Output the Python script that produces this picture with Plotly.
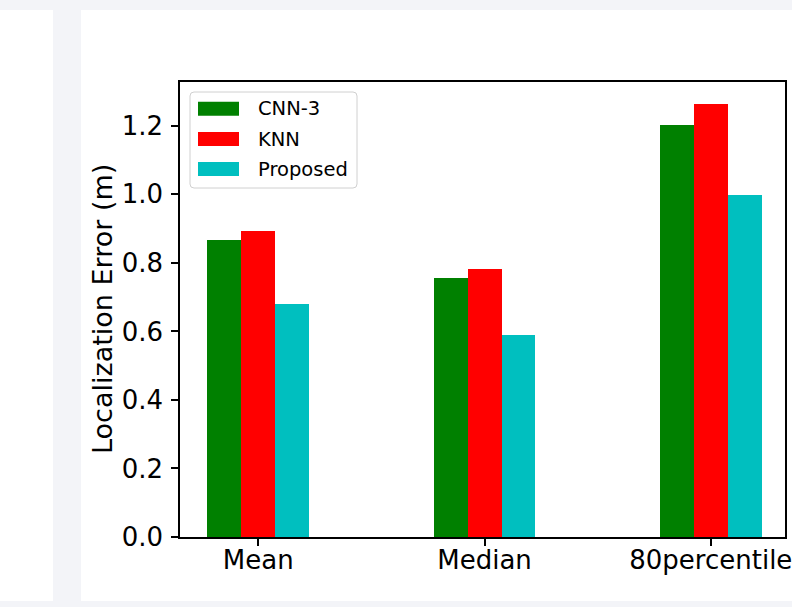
import plotly.graph_objects as go

categories = ["Mean", "Median", "80percentile"]
series_names = ["CNN-3", "KNN", "Proposed"]
cnn3 = [0.868, 0.755, 1.202]
knn = [0.894, 0.782, 1.265]
proposed = [0.681, 0.591, 0.997]
series_values = [cnn3, knn, proposed]
colors = ["#008000", "#ff0000", "#00bfbf"]
y_ticks = [0.0, 0.2, 0.4, 0.6, 0.8, 1.0, 1.2]

W, H = 792, 607
L, R, T, B = 180, 785, 82, 537  # plot area pixels
FONT = "DejaVu Sans"


def px(x):
    return (x - L) / (R - L)


def py(y):
    return (B - y) / (B - T)


fig = go.Figure()
bar_w = 0.15
offsets = [-0.225, -0.075, 0.075]
for name, vals, col, off in zip(series_names, series_values, colors, offsets):
    fig.add_trace(go.Bar(
        x=categories, y=vals, name=name, width=bar_w, offset=off,
        marker=dict(color=col, line=dict(width=0)), showlegend=False,
    ))

shapes = []
bg = "rgb(243,244,248)"
# page panels
shapes.append(dict(type="rect", xref="paper", yref="paper", x0=px(0), x1=px(53),
                   y0=py(10), y1=py(601), fillcolor="white", line=dict(width=0), layer="below"))
shapes.append(dict(type="rect", xref="paper", yref="paper", x0=px(81), x1=px(800),
                   y0=py(10), y1=py(601), fillcolor="white", line=dict(width=0), layer="below"))

# legend box (rounded)
lx0, lx1, ly0, ly1, r = 190, 357, 92, 188, 4
rx, ry = r / (R - L), r / (B - T)
X0, X1, Y0, Y1 = px(lx0), px(lx1), py(ly1), py(ly0)
path = (f"M{X0+rx},{Y0} L{X1-rx},{Y0} Q{X1},{Y0} {X1},{Y0+ry} L{X1},{Y1-ry} Q{X1},{Y1} {X1-rx},{Y1} "
        f"L{X0+rx},{Y1} Q{X0},{Y1} {X0},{Y1-ry} L{X0},{Y0+ry} Q{X0},{Y0} {X0+rx},{Y0} Z")
shapes.append(dict(type="path", xref="paper", yref="paper", path=path,
                   fillcolor="rgba(255,255,255,0.8)", line=dict(color="#d0d0d0", width=1)))
annotations = []
row_y = [108.7, 139, 169]
for name, col, yy in zip(series_names, colors, row_y):
    shapes.append(dict(type="rect", xref="paper", yref="paper", x0=px(198), x1=px(239),
                       y0=py(yy + 7), y1=py(yy - 7), fillcolor=col, line=dict(width=0)))
    annotations.append(dict(xref="paper", yref="paper", x=px(256), y=py(yy), text=name,
                            showarrow=False, xanchor="left", yanchor="middle",
                            font=dict(family=FONT, size=19.5, color="black")))

annotations.append(dict(xref="paper", yref="paper", x=px(102), y=py(309),
                        text="Localization Error (m)", textangle=-90, showarrow=False,
                        xanchor="center", yanchor="middle",
                        font=dict(family=FONT, size=27, color="black")))

fig.update_layout(
    width=W, height=H,
    margin=dict(l=L, r=W - R, t=T, b=H - B, pad=0, autoexpand=False),
    paper_bgcolor=bg, plot_bgcolor="white",
    barmode="overlay", bargap=0,
    font=dict(family=FONT, color="black"),
    shapes=shapes, annotations=annotations,
    showlegend=False,
)
fig.update_xaxes(
    type="category", range=[-0.346, 2.328], showline=True, linecolor="black", linewidth=1.5,
    mirror=True, ticks="outside", ticklen=7, tickwidth=1.5, tickcolor="black",
    showgrid=False, zeroline=False, tickfont=dict(family=FONT, size=26, color="black"),
    ticklabelstandoff=-8, automargin=False,
)
fig.update_yaxes(
    range=[0, 1.328], tickvals=y_ticks, tickformat=".1f", showline=True, linecolor="black",
    linewidth=1.5, mirror=True, ticks="outside", ticklen=7, tickwidth=1.5, tickcolor="black",
    showgrid=False, zeroline=False, tickfont=dict(family=FONT, size=26, color="black"),
    ticklabelstandoff=3, automargin=False,
)

fig.write_html("out.html", config={"displayModeBar": False},
               post_script="document.body.style.margin='0';document.body.style.overflow='hidden';")
